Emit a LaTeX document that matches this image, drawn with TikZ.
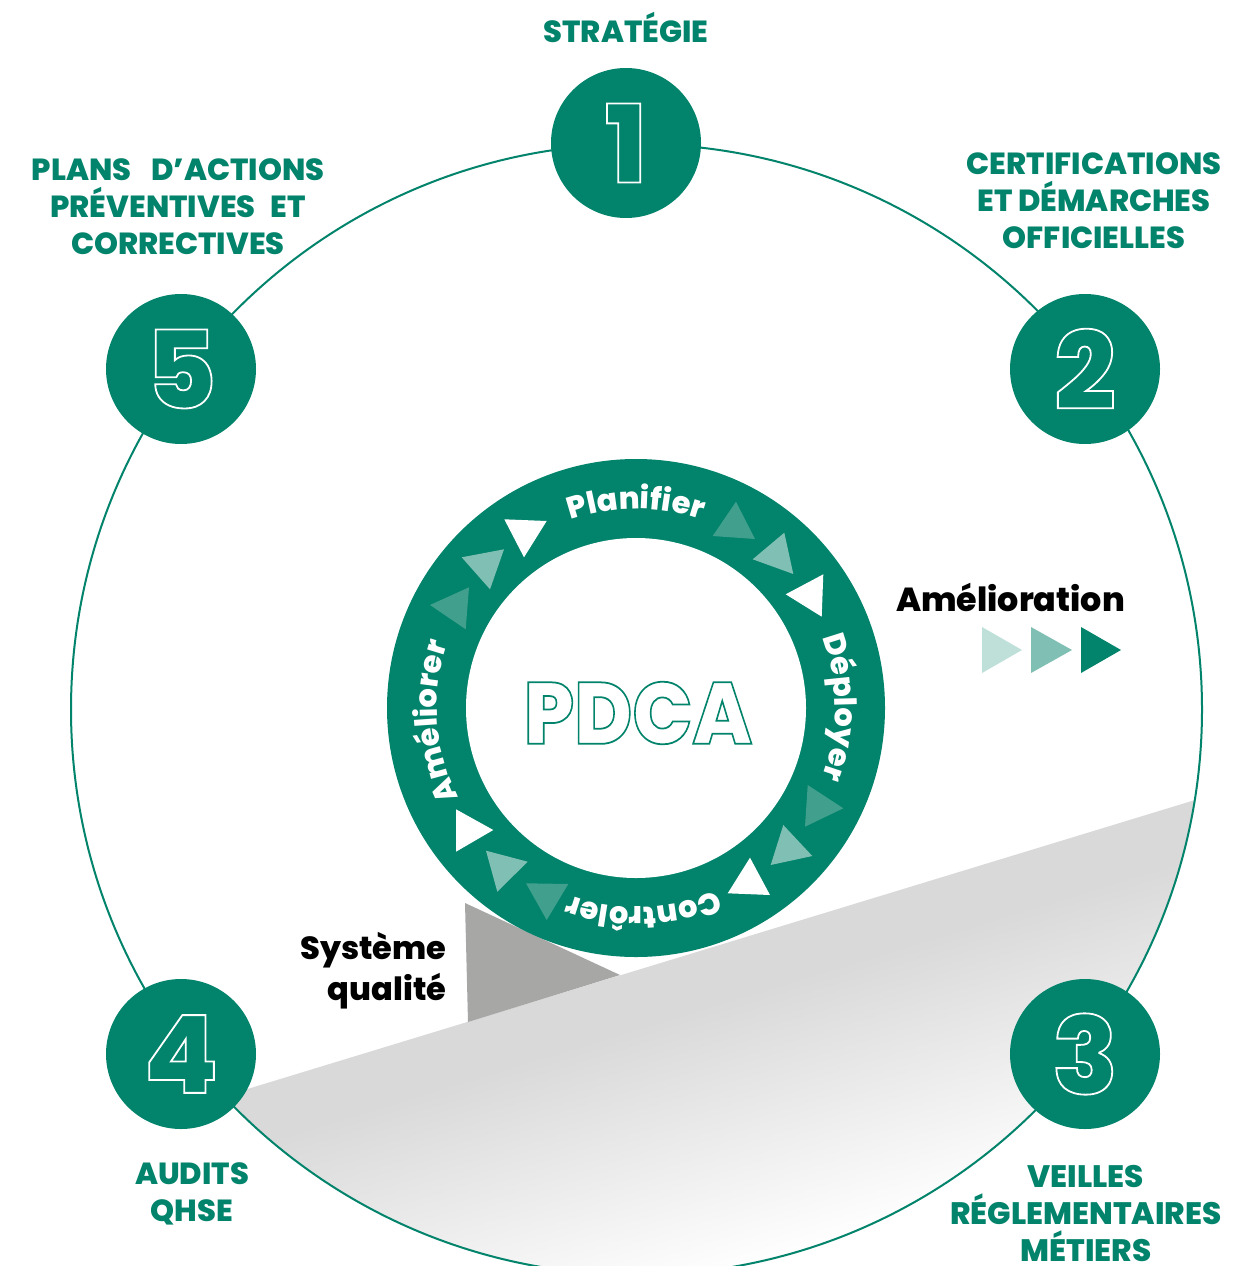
\documentclass[tikz,border=0pt]{standalone}
\usepackage{fontspec}
\setmainfont{Poppins}[BoldFont={Poppins ExtraBold}]
\usetikzlibrary{decorations.text}
\definecolor{teal0}{RGB}{2,131,107}
\definecolor{tealD}{RGB}{64,160,141}
\definecolor{tealM}{RGB}{128,191,179}
\definecolor{tealL}{RGB}{191,224,217}
\definecolor{greyT}{RGB}{167,167,166}
\newcommand{\outlinetext}[3]{\special{pdf:code 1 Tr #1 w #2 RG}#3\special{pdf:code 0 Tr}}
\newcommand{\disctext}[1]{\raisebox{-2pt}{\outlinetext{1.8}{1 1 1}{#1}}}
\tikzset{
  numdisc/.style={circle,fill=teal0,minimum size=150pt,inner sep=0pt,text=white,font=\fontsize{108}{108}\selectfont\bfseries},
  lab/.style={text=teal0,align=center,inner sep=0pt,font=\fontsize{30.5}{37}\selectfont\bfseries},
  blacklab/.style={text=black,inner sep=0pt,font=\fontsize{32}{41}\selectfont\bfseries},
}
\newcommand{\ringword}[2]{%
  \path[decorate,decoration={text along path,text align=center,
    text={|\fontsize{30.5}{30.5}\selectfont\bfseries\color{white}|#2}}]
    (636,708) ++(#1-40:199) arc[start angle=#1-40,end angle=#1+40,radius=199];}
\begin{document}
\begin{tikzpicture}[x=1pt,y=-1pt]
\useasboundingbox (0,0) rectangle (1253,1266);
\clip (0,0) rectangle (1253,1266);
\fill[white] (0,0) rectangle (1253,1266);
% grey wedge
\begin{scope}
  \clip (636.5,709.5) circle[radius=565.5];
  \clip (100,1134) -- (1300,768) -- (1300,1300) -- (100,1300) -- cycle;
  \fill[black!15,rotate around={17:(636,971)}] (-100,900) rectangle (1400,1320);
  \foreach \i in {1,...,38}{
    \pgfmathsetmacro{\pct}{15*(1-\i/38)}
    \pgfmathsetmacro{\ytop}{1021+\i*7}
    \fill[black!\pct,rotate around={17:(636,971)}] (-100,\ytop) rectangle (1400,1320);
  }
\end{scope}
\fill[greyT] (465,903) -- (620,975) -- (468,1022) -- cycle;
% big ring
\draw[teal0,line width=2pt] (636.5,709.5) circle[radius=565.5];
% PDCA ring
\fill[teal0] (636,708) circle[radius=249];
\fill[white] (636,708) circle[radius=170];
\ringword{-90}{Planifier}
\ringword{-0.2}{Déployer}
\ringword{87.8}{Contrôler}
\ringword{176}{Améliorer}
% ring triangles
\fill[tealD] (736,501.7) -- (755,539) -- (712.7,536) -- cycle;
\fill[tealM] (784.3,532.7) -- (793.3,574) -- (752.7,559.3) -- cycle;
\fill[white] (823.3,574.3) -- (821.7,616.7) -- (785.7,594.3) -- cycle;
\fill[tealD] (807.7,785) -- (843.3,808.3) -- (805,826.7) -- cycle;
\fill[tealM] (783.3,825) -- (812.3,856) -- (770.7,865) -- cycle;
\fill[white] (750,857.7) -- (770,895) -- (727.7,893.3) -- cycle;
\fill[tealD] (568.3,884) -- (546.7,920) -- (526,883.3) -- cycle;
\fill[tealM] (527.7,861.7) -- (497.3,891.7) -- (486,850.7) -- cycle;
\fill[white] (493.3,830) -- (456,851.7) -- (456,809.3) -- cycle;
\fill[tealD] (430,605) -- (469,587.3) -- (465.7,629.3) -- cycle;
\fill[tealM] (461.7,557.3) -- (504,549.3) -- (490,589.3) -- cycle;
\fill[white] (504.3,519.3) -- (546.7,521) -- (524,557.3) -- cycle;
% amelioration triangles
\fill[tealL] (982,627) -- (1022,650) -- (982,673) -- cycle;
\fill[tealM] (1031,627) -- (1072,650) -- (1031,673) -- cycle;
\fill[teal0] (1081,627) -- (1121,650) -- (1081,673) -- cycle;
% number discs
\node[numdisc] (n1) at (626,143) {\outlinetext{1.8}{1 1 1}{1}};
\node[numdisc] (n2) at (1085,369) {\disctext{2}};
\node[numdisc] (n3) at (1085,1054) {\disctext{3}};
\node[numdisc] (n4) at (181,1054) {\disctext{4}};
\node[numdisc] (n5) at (181,369) {\disctext{5}};
% labels
\node[lab] (l1) at (626,27) {STRATÉGIE};
\node[lab] (l2) at (1094,201) {CERTIFICATIONS\\ET DÉMARCHES\\OFFICIELLES};
\node[lab,font=\fontsize{31}{37}\selectfont\bfseries] (l3) at (1086,1213) {VEILLES\\RÉGLEMENTAIRES\\MÉTIERS};
\node[lab] (l4) at (192,1194) {AUDITS\\QHSE};
\node[lab] (l5) at (178,207) {PLANS\hspace{14pt} D’ACTIONS\\PRÉVENTIVES\hspace{9pt} ET\\CORRECTIVES};
\node[blacklab,align=right,anchor=east] (sq) at (446.5,971) {Système\\qualité};
\node[blacklab,font=\fontsize{33.3}{41}\selectfont\bfseries] (am) at (1010.5,597) {Amélioration};
\node[inner sep=0pt,font=\fontsize{90}{90}\selectfont\bfseries] (pdca) at (638,713) {\scalebox{0.88}[0.97]{\outlinetext{1.8}{0.008 0.514 0.42}{PDCA}}};
\end{tikzpicture}
\end{document}
